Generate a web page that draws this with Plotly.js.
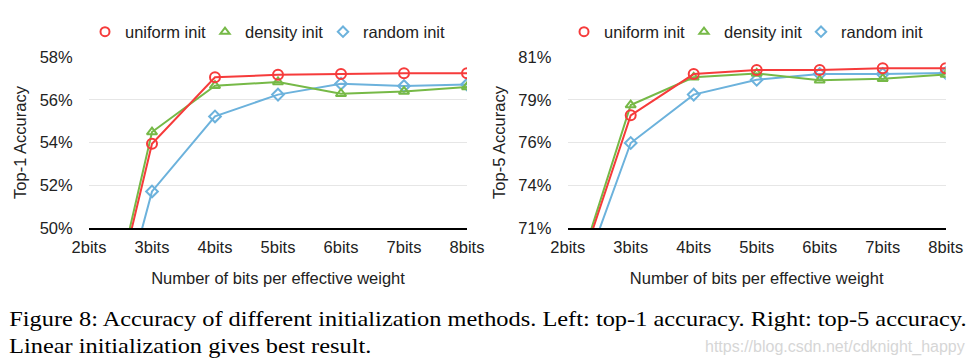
<!DOCTYPE html>
<html><head><meta charset="utf-8">
<script src="https://cdn.plot.ly/plotly-3.0.1.min.js"></script>
<style>html,body{margin:0;padding:0;background:#fff;}#chart{width:977px;height:364px;}
.caption-stretch{transform:scaleX(1.22);transform-origin:left center;transform-box:fill-box;}</style>
</head><body><div id="chart"></div>
<script>
const bits = ['2bits','3bits','4bits','5bits','6bits','7bits','8bits'];
const seriesNames = ['uniform init','density init','random init'];
// Top-1 accuracy (%)
const top1Uniform = [41.6, 53.94, 57.05, 57.17, 57.2, 57.24, 57.24];
const top1Density = [41.7, 54.49, 56.66, 56.83, 56.28, 56.39, 56.6];
const top1Random  = [40.7, 51.71, 55.22, 56.24, 56.75, 56.64, 56.71];
// Top-5 accuracy (%)
const top5Uniform = [66.5, 77.59, 80.0, 80.24, 80.24, 80.34, 80.34];
const top5Density = [66.6, 78.19, 79.81, 80.04, 79.64, 79.73, 79.97];
const top5Random  = [65.8, 75.97, 78.8, 79.67, 80.0, 80.0, 80.06];
const top1TickVals = [50, 52, 54, 56, 58];
const top1TickText = ['50%','52%','54%','56%','58%'];
const top5TickVals = [71, 73.5, 76, 78.5, 81];
const top5TickText = ['71%','74%','76%','79%','81%'];
const captionLines = ['Figure 8: Accuracy of different initialization methods. Left: top-1 accuracy. Right: top-5 accuracy.',
                      'Linear initialization gives best result.'];
const watermark = 'https://blog.csdn.net/cdknight_happy';

const RED = '#f63b3b', GREEN = '#76b947', BLUE = '#6cb2dc';
const styles = {
  'uniform init': {color: RED, symbol: 'circle-open', size: 10},
  'density init': {color: GREEN, symbol: 'triangle-up-open', size: 9},
  'random init': {color: BLUE, symbol: 'diamond-open', size: 9}
};
function tr(name, y, xa, ya) {
  const s = styles[name];
  return {x: bits, y: y, name: name, xaxis: xa, yaxis: ya, type: 'scatter', mode: 'lines+markers',
    showlegend: false,
    line: {color: s.color, width: 2},
    marker: {symbol: s.symbol, size: s.size, color: s.color, line: {width: 2, color: s.color}}};
}
function legendTr(name, xa, ya, legend) {
  const s = styles[name];
  return {x: [null], y: [null], name: name, xaxis: xa, yaxis: ya, type: 'scatter', mode: 'markers',
    legend: legend, showlegend: true,
    marker: {symbol: s.symbol, size: s.size - 1, color: s.color, line: {width: 2, color: s.color}}};
}
const data = [
  tr('random init', top1Random, 'x', 'y'),
  tr('density init', top1Density, 'x', 'y'),
  tr('uniform init', top1Uniform, 'x', 'y'),
  tr('random init', top5Random, 'x2', 'y2'),
  tr('density init', top5Density, 'x2', 'y2'),
  tr('uniform init', top5Uniform, 'x2', 'y2')
];
const legendIds = ['legend', 'legend2', 'legend3', 'legend4', 'legend5', 'legend6'];
seriesNames.forEach((n, i) => data.push(legendTr(n, 'x', 'y', legendIds[i])));
seriesNames.forEach((n, i) => data.push(legendTr(n, 'x2', 'y2', legendIds[i + 3])));

const FONT = {family: 'Liberation Sans, Arial, sans-serif', size: 16.5, color: '#222'};
const W = 977, H = 364;
const yTop = 1 - 57/H, yBot = 1 - 228/H;
function xax(d0, d1) {
  return {domain: [d0/W, d1/W], type: 'category', range: [0, 6], showgrid: false, zeroline: false,
    showline: true, linecolor: '#000', linewidth: 1.5, ticks: 'outside', ticklen: 4, tickcolor: 'rgba(0,0,0,0)',
    tickfont: FONT, fixedrange: true,
    title: {text: 'Number of bits per effective weight', font: FONT, standoff: 17}};
}
function yax(tv, tt, rng, title, anchor) {
  return {domain: [yBot, yTop], range: rng, tickvals: tv, ticktext: tt, showgrid: true, gridcolor: '#e6e6e6', gridwidth: 1,
    zeroline: false, showline: false, ticks: 'outside', ticklen: 12, tickcolor: 'rgba(0,0,0,0)', tickfont: FONT,
    anchor: anchor, title: {text: title, font: FONT, standoff: 8}};
}
function leg(px) {
  return {orientation: 'h', xanchor: 'left', yanchor: 'middle', x: px / W, y: 1 - 32/H,
    font: FONT, bgcolor: 'rgba(0,0,0,0)', itemwidth: 30};
}
const legendX = [85, 205, 323, 564, 684, 801];
const layout = {
  width: W, height: H, margin: {l: 0, r: 0, t: 0, b: 0}, paper_bgcolor: '#fff', plot_bgcolor: '#fff',
  font: FONT,
  xaxis: xax(89, 467), yaxis: yax(top1TickVals, top1TickText, [50, 58], 'Top-1 Accuracy', 'x'),
  xaxis2: Object.assign(xax(567.7, 945.7), {anchor: 'y2'}),
  yaxis2: yax(top5TickVals, top5TickText, [71, 81], 'Top-5 Accuracy', 'x2'),
  annotations: [
    {text: captionLines[0], xref: 'paper', yref: 'paper', x: 7/W, y: 1 - 319/H, xanchor: 'left', yanchor: 'middle',
      showarrow: false, font: {family: 'Liberation Serif, Times New Roman, serif', size: 20, color: '#000'}},
    {text: captionLines[1], xref: 'paper', yref: 'paper', x: 7/W, y: 1 - 346/H, xanchor: 'left', yanchor: 'middle',
      showarrow: false, font: {family: 'Liberation Serif, Times New Roman, serif', size: 20, color: '#000'}},
    {text: watermark, xref: 'paper', yref: 'paper', x: 967/W, y: 1 - 347/H, xanchor: 'right', yanchor: 'middle',
      showarrow: false, font: {family: 'Liberation Sans, Arial, sans-serif', size: 16, color: '#d6d6d6'}}
  ]
};
legendIds.forEach((id, i) => { layout[id] = leg(legendX[i]); });
Plotly.newPlot('chart', data, layout, {displayModeBar: false, staticPlot: true}).then(function () {
  const texts = document.querySelectorAll('.annotation-text');
  for (let i = 0; i < 2 && i < texts.length; i++) texts[i].classList.add('caption-stretch');
});
</script></body></html>
